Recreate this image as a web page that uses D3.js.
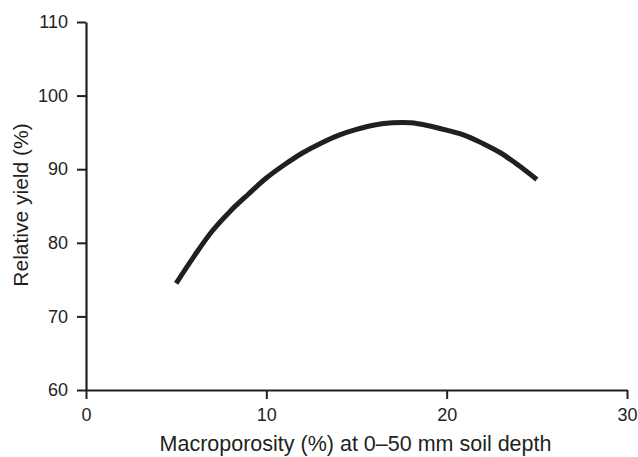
<!DOCTYPE html>
<html>
<head>
<meta charset="utf-8">
<script src="https://cdn.jsdelivr.net/npm/d3@7"></script>
<style>
  html, body { margin: 0; padding: 0; background: #fff; }
  svg { display: block; }
  text { font-family: "Liberation Sans", Arial, Helvetica, sans-serif; fill: #231f20; }
</style>
</head>
<body>
<script>
// Data
const macroporosity = [5, 6, 7, 8, 9, 10, 11, 12, 13, 14, 15, 16, 17, 18, 19, 20, 21, 22, 23, 24, 25];
const relativeYield = [74.5, 78.2, 81.6, 84.3, 86.6, 88.8, 90.6, 92.2, 93.5, 94.6, 95.4, 96.0, 96.3, 96.3, 95.9, 95.3, 94.6, 93.5, 92.2, 90.5, 88.6];
const xTicks = [0, 10, 20, 30];
const yTicks = [60, 70, 80, 90, 100, 110];
const xTitle = "Macroporosity (%) at 0\u201350 mm soil depth";
const yTitle = "Relative yield (%)";

const W = 638, H = 457;
const margin = { top: 22, right: 11, bottom: 67, left: 86 };
const ink = "#231f20";

const svg = d3.select("body").append("svg").attr("width", W).attr("height", H);

const x = d3.scaleLinear().domain([0, 30]).range([margin.left, W - margin.right]);
const y = d3.scaleLinear().domain([60, 110]).range([H - margin.bottom, margin.top]);

// X axis
const xAxis = svg.append("g")
  .attr("transform", `translate(0,${y(60)})`)
  .call(d3.axisBottom(x).tickValues(xTicks).tickSize(9).tickPadding(9).tickSizeOuter(0));
// Y axis
const yAxis = svg.append("g")
  .attr("transform", `translate(${x(0)},0)`)
  .call(d3.axisLeft(y).tickValues(yTicks).tickSize(9).tickPadding(9).tickSizeOuter(0));

[xAxis, yAxis].forEach(g => {
  g.attr("font-size", 18).attr("font-family", "'Liberation Sans', Arial, sans-serif");
  g.select(".domain").attr("stroke", ink).attr("stroke-width", 2.2);
  g.selectAll(".tick line").attr("stroke", ink).attr("stroke-width", 2);
  g.selectAll(".tick text").attr("fill", ink);
});

// Curve
const line = d3.line()
  .x((d, i) => x(macroporosity[i]))
  .y(d => y(d))
  .curve(d3.curveCatmullRom);

svg.append("path")
  .datum(relativeYield)
  .attr("d", line)
  .attr("fill", "none")
  .attr("stroke", ink)
  .attr("stroke-width", 5)
  .attr("stroke-linecap", "butt");

// Axis titles
svg.append("text")
  .attr("x", 355.5)
  .attr("y", 451)
  .attr("text-anchor", "middle")
  .attr("font-size", 21.5)
  .text(xTitle);

svg.append("text")
  .attr("transform", `translate(28,205) rotate(-90)`)
  .attr("text-anchor", "middle")
  .attr("font-size", 21)
  .text(yTitle);
</script>
</body>
</html>
